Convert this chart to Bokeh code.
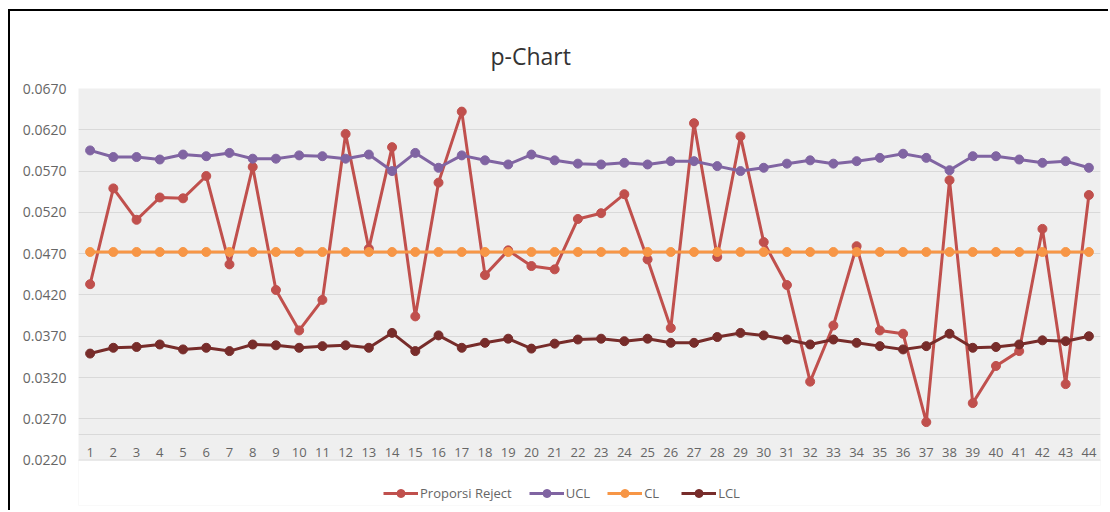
from bokeh.plotting import figure
from bokeh.models import (FixedTicker, PrintfTickFormatter, Span, Legend, LegendItem,
                          ColumnDataSource, BoxAnnotation)
from bokeh.core.properties import value
from bokeh.embed import file_html
from bokeh.resources import INLINE

samples = list(range(1, 45))
x_labels = [str(s) for s in samples]

proporsi = [0.0433, 0.0549, 0.0511, 0.0538, 0.0537, 0.0564, 0.0457, 0.0575, 0.0426, 0.0377,
            0.0414, 0.0615, 0.0476, 0.0599, 0.0394, 0.0556, 0.0642, 0.0444, 0.0474, 0.0455,
            0.0451, 0.0512, 0.0519, 0.0542, 0.0463, 0.0380, 0.0628, 0.0466, 0.0612, 0.0484,
            0.0432, 0.0315, 0.0383, 0.0479, 0.0377, 0.0373, 0.0266, 0.0559, 0.0289, 0.0334,
            0.0352, 0.0500, 0.0312, 0.0541]
ucl = [0.0595, 0.0587, 0.0587, 0.0584, 0.0590, 0.0588, 0.0592, 0.0585, 0.0585, 0.0589,
       0.0588, 0.0585, 0.0590, 0.0570, 0.0592, 0.0574, 0.0589, 0.0583, 0.0578, 0.0590,
       0.0583, 0.0579, 0.0578, 0.0580, 0.0578, 0.0582, 0.0582, 0.0576, 0.0570, 0.0574,
       0.0579, 0.0583, 0.0579, 0.0582, 0.0586, 0.0591, 0.0586, 0.0571, 0.0588, 0.0588,
       0.0584, 0.0580, 0.0582, 0.0574]
cl = [0.0472] * 44
lcl = [0.0349, 0.0356, 0.0357, 0.0360, 0.0354, 0.0356, 0.0352, 0.0360, 0.0359, 0.0356,
       0.0358, 0.0359, 0.0356, 0.0374, 0.0352, 0.0371, 0.0356, 0.0362, 0.0367, 0.0355,
       0.0361, 0.0366, 0.0367, 0.0364, 0.0367, 0.0362, 0.0362, 0.0369, 0.0374, 0.0371,
       0.0366, 0.0360, 0.0366, 0.0362, 0.0358, 0.0354, 0.0358, 0.0373, 0.0356, 0.0357,
       0.0360, 0.0365, 0.0364, 0.0370]

y_ticks = [0.0220, 0.0270, 0.0320, 0.0370, 0.0420, 0.0470, 0.0520, 0.0570, 0.0620, 0.0670]
y_min, y_max = 0.0220, 0.0670

FONT = "Open Sans"
GRAY = "#666666"

# the frame reaches below the value range so the legend can sit inside it
p = figure(frame_width=1022, frame_height=417, output_backend="svg", toolbar_location=None,
           x_range=(0.5, 44.5), y_range=(0.0165, y_max), x_axis_location=None,
           min_border_left=78, min_border_right=8, min_border_top=88, min_border_bottom=5)
p.border_fill_alpha = 0
p.styles = {
    "background": "linear-gradient(#000, #000) 8px 9px / 2px 1000px no-repeat, "
                  "linear-gradient(#000, #000) 8px 9px / 2000px 2px no-repeat, #ffffff"
}

p.background_fill_color = "#efefef"
p.outline_line_color = None
p.xgrid.grid_line_color = None
p.ygrid.grid_line_color = "#d9d9d9"
p.ygrid.grid_line_width = 1

# white strip under the value range (legend area)
p.add_layout(BoxAnnotation(top=y_min, fill_color="white", fill_alpha=1, line_color=None,
                           level="underlay"))
p.add_layout(Span(location=y_min, dimension="width", line_color="#d9d9d9", line_width=1))

p.yaxis.ticker = FixedTicker(ticks=y_ticks)
p.yaxis.formatter = PrintfTickFormatter(format="%.4f")
p.yaxis.axis_line_color = None
p.yaxis.major_tick_line_color = None
p.yaxis.minor_tick_line_color = None
p.yaxis.major_label_standoff = 6
p.yaxis.major_label_text_font = FONT
p.yaxis.major_label_text_font_size = "14px"
p.yaxis.major_label_text_color = GRAY

p.title.text = "p-Chart"
p.title.align = "left"
p.title.offset = 412
p.title.text_font = FONT
p.title.text_font_size = "23px"
p.title.text_font_style = "normal"
p.title.text_color = "#333333"
p.title.standoff = 33

# category axis drawn inside the plot area, as in the reference
p.add_layout(Span(location=0.0251, dimension="width", line_color="#d9d9d9", line_width=1))
lab_src = ColumnDataSource(dict(x=samples, y=[0.0229] * len(samples), t=x_labels))
p.text(x="x", y="y", text="t", source=lab_src, text_align="center", text_baseline="middle",
       text_font=value(FONT), text_font_size="13px", text_color=GRAY)

series = [("Proporsi Reject", proporsi, "#C0504D"),
          ("UCL", ucl, "#8064A2"),
          ("CL", cl, "#F79646"),
          ("LCL", lcl, "#772C2A")]
items = []
for name, vals, col in series:
    r1 = p.line(samples, vals, line_color=col, line_width=3)
    r2 = p.scatter(samples, vals, size=9, fill_color=col, line_color=col)
    items.append(LegendItem(label=name, renderers=[r1, r2]))

legend = Legend(items=items, orientation="horizontal", location=(305, 2),
                glyph_width=35, glyph_height=20, label_standoff=2, spacing=17,
                padding=0, margin=0, border_line_color=None, background_fill_alpha=0,
                label_text_font=FONT, label_text_font_size="13px", label_text_color=GRAY)
p.add_layout(legend)

open("out.html", "w").write(file_html(p, INLINE))
